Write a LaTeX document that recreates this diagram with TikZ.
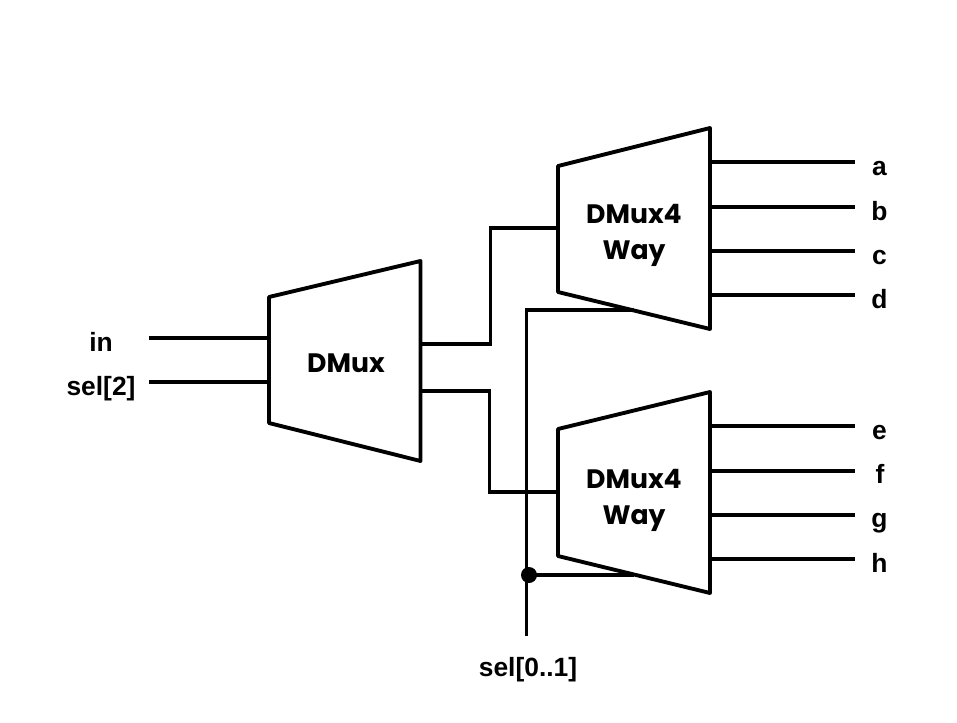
\documentclass[tikz,border=0pt]{standalone}
\usepackage{fontspec}
\setmainfont{Liberation Sans}
\newfontfamily\boxfont{Poppins}
\tikzset{
  wire/.style={draw=black,line width=2.9pt,line cap=butt,line join=miter},
  muxbox/.style={draw=black,line width=2.9pt,line join=round},
  pin/.style={font=\bfseries\fontsize{19.8}{22}\selectfont,text=black,inner sep=0pt,anchor=base},
  muxlabel/.style={font=\boxfont\bfseries\fontsize{20}{26}\selectfont,text=black,inner sep=0pt,anchor=base},
}
\begin{document}
\begin{tikzpicture}[x=0.75pt,y=-0.75pt]
\useasboundingbox (0,0) rectangle (957,722);
\coordinate (ina) at (149,338); \coordinate (inb) at (269,338);
\coordinate (sela) at (149,382); \coordinate (selb) at (269,382);
\coordinate (d1) at (422,344); \coordinate (d1k) at (490.5,344);
\coordinate (d1t) at (490.5,228); \coordinate (u1in) at (558,228);
\coordinate (d2) at (422,391); \coordinate (d2k) at (489.5,391);
\coordinate (d2t) at (489.5,492); \coordinate (u2in) at (558,492);
\coordinate (sbot) at (526.5,636); \coordinate (stop) at (526.5,310);
\coordinate (sr) at (634,310);
\coordinate (dot) at (529,575); \coordinate (dr) at (634,575);
\foreach \n/\x/\y in {oa/855/162,ob/855/207,oc/855/251,od/855/295,oe/855/426,of/855/471,og/855/515,oh/855/559}{\coordinate (\n) at (\x,\y);}
\foreach \n/\x/\y in {ia/710/162,ib/710/207,ic/710/251,id/710/295,ie/710/426,if/710/471,ig/710/515,ih/710/559}{\coordinate (\n) at (\x,\y);}
\draw[wire] (ina)--(inb);
\draw[wire] (sela)--(selb);
\draw[wire] (d1)--(d1k)--(d1t)--(u1in);
\draw[wire] (d2)--(d2k)--(d2t)--(u2in);
\draw[wire] (sbot)--(stop)--(sr);
\draw[wire] (dot)--(dr);
\foreach \a/\b in {ia/oa,ib/ob,ic/oc,id/od,ie/oe,if/of,ig/og,ih/oh}{\draw[wire] (\a)--(\b);}
\draw[muxbox] (269,297)--(420.5,261)--(420.5,461)--(269,423)--cycle;
\draw[muxbox] (558,166)--(710,128)--(710,329)--(558,292)--cycle;
\draw[muxbox] (558,429)--(710,392)--(710,593)--(558,556)--cycle;
\fill[black] (dot) circle (6pt);
\node[muxlabel] (m0) at (346,372) {DMux};
\node[muxlabel] (m1a) at (634,223) {DMux4};
\node[muxlabel] (m1b) at (634,259) {Way};
\node[muxlabel] (m2a) at (634,488) {DMux4};
\node[muxlabel] (m2b) at (634,524) {Way};
\node[pin] (la) at (879.5,175) {a};
\node[pin] (lb) at (879.5,220) {b};
\node[pin] (lc) at (879.5,264) {c};
\node[pin] (ld) at (879.5,308) {d};
\node[pin] (le) at (879.5,439) {e};
\node[pin] (lf) at (880,483) {f};
\node[pin] (lg) at (879.5,527) {g};
\node[pin] (lh) at (879.5,572) {h};
\node[pin] (lin) at (101,351) {in};
\node[pin] (lsel) at (101,395) {sel[2]};
\node[pin] (lsb) at (528,676) {sel[0..1]};
\end{tikzpicture}
\end{document}
